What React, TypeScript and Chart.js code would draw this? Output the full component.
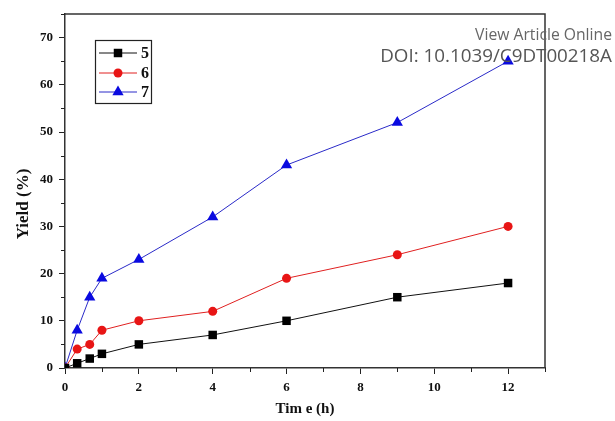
import React, { useEffect, useRef } from "react";
import { Chart, registerables } from "chart.js";

Chart.register(...registerables);

const timesH = [0, 0.33, 0.67, 1, 2, 4, 6, 9, 12];
const yield5 = [0, 1, 2, 3, 5, 7, 10, 15, 18];
const yield6 = [0, 4, 5, 8, 10, 12, 19, 24, 30];
const yield7 = [0, 8, 15, 19, 23, 32, 43, 52, 65];
const seriesNames = ["5", "6", "7"];
const xMajorTicks = [0, 2, 4, 6, 8, 10, 12];
const xMinorTicks = [1, 3, 5, 7, 9, 11, 13];
const yMajorTicks = [0, 10, 20, 30, 40, 50, 60, 70];
const yMinorTicks = [5, 15, 25, 35, 45, 55, 65, 75];
const xTitle = "Tim e (h)";
const yTitle = "Yield (%)";
const watermark1 = "View Article Online";
const watermark2 = "DOI: 10.1039/C9DT00218A";

const SERIF = "'Liberation Serif', 'Times New Roman', serif";

function drawMarker(ctx: CanvasRenderingContext2D, style: string, x: number, y: number, r: number) {
  ctx.beginPath();
  if (style === "rect") {
    const s = Math.SQRT1_2 * r;
    ctx.rect(x - s, y - s, 2 * s, 2 * s);
  } else if (style === "triangle") {
    ctx.moveTo(x, y - r);
    ctx.lineTo(x + r * Math.sin(Math.PI / 3), y + r * 0.5);
    ctx.lineTo(x - r * Math.sin(Math.PI / 3), y + r * 0.5);
    ctx.closePath();
  } else {
    ctx.arc(x, y, r, 0, Math.PI * 2);
  }
  ctx.fill();
}

const framePlugin = {
  id: "frame",
  afterDraw(chart: any) {
    const { ctx, chartArea } = chart;
    const xs = chart.scales.x;
    const ys = chart.scales.y;
    const { left, right, top, bottom } = chartArea;
    ctx.save();
    ctx.strokeStyle = "#333";
    ctx.lineWidth = 1.5;
    ctx.beginPath();
    ctx.moveTo(left, top);
    ctx.lineTo(right, top);
    ctx.lineTo(right, bottom);
    ctx.stroke();
    ctx.lineWidth = 1;
    ctx.strokeStyle = "#222";
    ctx.beginPath();
    xMinorTicks.forEach((v) => {
      const px = Math.round(xs.getPixelForValue(v)) + 0.5;
      ctx.moveTo(px, bottom);
      ctx.lineTo(px, bottom + 4);
    });
    yMinorTicks.forEach((v) => {
      const py = Math.round(ys.getPixelForValue(v)) + 0.5;
      ctx.moveTo(left, py);
      ctx.lineTo(left - 4, py);
    });
    ctx.stroke();
    ctx.fillStyle = "#111";
    ctx.textAlign = "center";
    ctx.textBaseline = "middle";
    ctx.font = `bold 15px ${SERIF}`;
    ctx.fillText(xTitle, (left + right) / 2, 409);
    ctx.save();
    ctx.translate(24, 204);
    ctx.rotate(-Math.PI / 2);
    ctx.font = `bold 17px ${SERIF}`;
    ctx.fillText(yTitle, 0, 0);
    ctx.restore();
    const bx = 95, by = 40, bw = 56, bh = 63;
    ctx.strokeStyle = "#222";
    ctx.lineWidth = 1.2;
    ctx.strokeRect(bx + 0.5, by + 0.5, bw, bh);
    const rows = [53, 73, 92];
    chart.data.datasets.forEach((ds: any, i: number) => {
      const y = rows[i];
      ctx.strokeStyle = ds.borderColor;
      ctx.lineWidth = 1;
      ctx.beginPath();
      ctx.moveTo(99, y);
      ctx.lineTo(137, y);
      ctx.stroke();
      ctx.fillStyle = ds.pointBackgroundColor;
      drawMarker(ctx, ds.pointStyle, 118, y, ds.pointRadius);
      ctx.fillStyle = "#111";
      ctx.font = `bold 16px ${SERIF}`;
      ctx.textAlign = "left";
      ctx.textBaseline = "middle";
      ctx.fillText(seriesNames[i], 141, y + 1);
    });
    ctx.textAlign = "right";
    ctx.textBaseline = "alphabetic";
    ctx.font = "15px 'Open Sans', sans-serif";
    let w = ctx.measureText(watermark1).width;
    ctx.font = `${(15 * 137) / w}px 'Open Sans', sans-serif`;
    ctx.fillStyle = "#666";
    ctx.fillText(watermark1, 612, 40);
    ctx.font = "17px 'Open Sans', sans-serif";
    w = ctx.measureText(watermark2).width;
    ctx.font = `${(17 * 232) / w}px 'Open Sans', sans-serif`;
    ctx.fillStyle = "#555";
    ctx.fillText(watermark2, 612, 62);
    ctx.restore();
  },
};

export default function App() {
  const ref = useRef<HTMLCanvasElement | null>(null);
  useEffect(() => {
    if (!ref.current) return;
    const mk = (vals: number[]) => timesH.map((t, i) => ({ x: t, y: vals[i] }));
    const chart = new Chart(ref.current, {
      type: "line",
      data: {
        datasets: [
          {
            label: seriesNames[0],
            data: mk(yield5),
            borderColor: "#111",
            borderWidth: 1,
            pointStyle: "rect",
            pointRadius: 6,
            pointBackgroundColor: "#000",
            pointBorderColor: "#000",
            pointBorderWidth: 0,
          },
          {
            label: seriesNames[1],
            data: mk(yield6),
            borderColor: "#e02020",
            borderWidth: 1,
            pointStyle: "circle",
            pointRadius: 4.5,
            pointBackgroundColor: "#e81515",
            pointBorderColor: "#e81515",
            pointBorderWidth: 0,
          },
          {
            label: seriesNames[2],
            data: mk(yield7),
            borderColor: "#2a2ac8",
            borderWidth: 1,
            pointStyle: "triangle",
            pointRadius: 6.5,
            pointBackgroundColor: "#0a0ae0",
            pointBorderColor: "#0a0ae0",
            pointBorderWidth: 0,
          },
        ],
      },
      options: {
        responsive: false,
        animation: false,
        layout: { padding: { top: 14, right: 70, left: 0, bottom: 0 } },
        plugins: { legend: { display: false }, tooltip: { enabled: false } },
        scales: {
          x: {
            type: "linear",
            min: 0,
            max: 13,
            afterBuildTicks: (s: any) => {
              s.ticks = xMajorTicks.map((v) => ({ value: v }));
            },
            afterFit: (s: any) => {
              s.height = 53;
            },
            grid: { drawOnChartArea: false, drawTicks: true, tickLength: 6, color: "#222", lineWidth: 1 },
            border: { display: true, color: "#333", width: 1.5 },
            ticks: {
              color: "#111",
              padding: 6,
              maxRotation: 0,
              font: { family: SERIF, weight: "bold", size: 13 },
            },
          },
          y: {
            type: "linear",
            min: 0,
            max: 75,
            afterBuildTicks: (s: any) => {
              s.ticks = yMajorTicks.map((v) => ({ value: v }));
            },
            afterFit: (s: any) => {
              s.width = 65;
            },
            grid: { drawOnChartArea: false, drawTicks: true, tickLength: 6, color: "#222", lineWidth: 1 },
            border: { display: true, color: "#333", width: 1.5 },
            ticks: {
              color: "#111",
              padding: 6,
              font: { family: SERIF, weight: "bold", size: 13 },
            },
          },
        },
      },
      plugins: [framePlugin],
    } as any);
    return () => chart.destroy();
  }, []);
  return (
    <div style={{ position: "absolute", left: 0, top: 0, width: 615, height: 421, background: "#fff" }}>
      <canvas ref={ref} width={615} height={421} />
    </div>
  );
}
